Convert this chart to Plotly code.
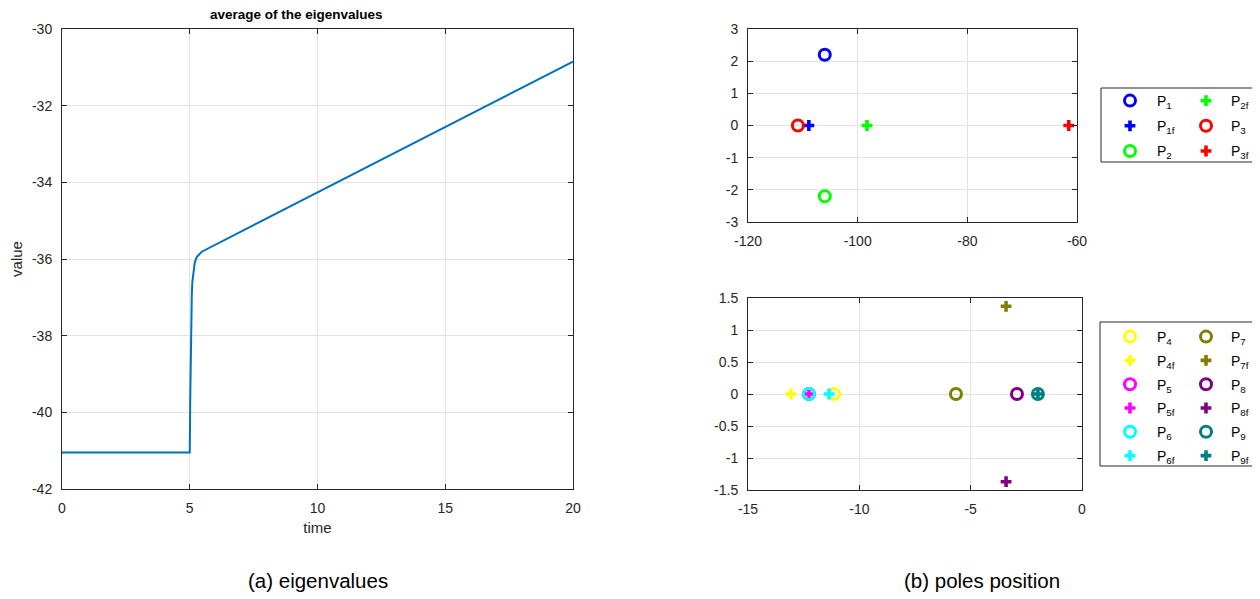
import plotly.graph_objects as go

# ---- data ----
time = [0, 5.0, 5.02, 5.04, 5.06, 5.08, 5.1, 5.15, 5.2, 5.28, 5.38, 5.47, 20]
avg_eig = [-41.05, -41.05, -39.6, -38.4, -37.5, -36.95, -36.6, -36.28, -36.08, -35.94, -35.86, -35.81, -30.85]

# top-right poles
top_names = ["P<sub>1</sub>", "P<sub>1f</sub>", "P<sub>2</sub>", "P<sub>2f</sub>", "P<sub>3</sub>", "P<sub>3f</sub>"]
top_re = [-106, -108.9, -106, -98.3, -110.9, -61.5]
top_im = [2.2, 0, -2.2, 0, 0, 0]
top_kind = ["o", "+", "o", "+", "o", "+"]
top_color = ["#0000FF", "#0000FF", "#00FF00", "#00FF00", "#FF0000", "#FF0000"]

# bottom-right poles
bot_names = ["P<sub>4</sub>", "P<sub>4f</sub>", "P<sub>5</sub>", "P<sub>5f</sub>", "P<sub>6</sub>", "P<sub>6f</sub>",
             "P<sub>7</sub>", "P<sub>7f</sub>", "P<sub>8</sub>", "P<sub>8f</sub>", "P<sub>9</sub>", "P<sub>9f</sub>"]
bot_re = [-11.14, -13.07, -12.26, -12.26, -12.26, -11.36, -5.66, -3.41, -2.92, -3.41, -1.98, -1.98]
bot_im = [0, 0, 0, 0, 0, 0, 0, 1.37, 0, -1.37, 0, 0]
bot_kind = ["o", "+", "o", "+", "o", "+", "o", "+", "o", "+", "o", "+"]
bot_color = ["#FFFF00", "#FFFF00", "#FF00FF", "#FF00FF", "#00FFFF", "#00FFFF",
             "#808000", "#808000", "#800080", "#800080", "#008080", "#008080"]

# tick labels
x1_ticks = [0, 5, 10, 15, 20]
y1_ticks = [-42, -40, -38, -36, -34, -32, -30]
x2_ticks = [-120, -100, -80, -60]
y2_ticks = [-3, -2, -1, 0, 1, 2, 3]
x3_ticks = [-15, -10, -5, 0]
y3_ticks = [-1.5, -1, -0.5, 0, 0.5, 1, 1.5]

OFF = 8                      # page body margin of the browser
W, H = 1260 - OFF, 599 - OFF
FONT = "Liberation Sans, Arial, sans-serif"
TXT = "#262626"
GRID = "#e3e3e3"

fig = go.Figure()

fig.add_trace(go.Scatter(x=time, y=avg_eig, mode="lines",
                         line=dict(color="#0072BD", width=2),
                         xaxis="x", yaxis="y", showlegend=False))


def marker(kind, color):
    if kind == "o":
        return dict(symbol="circle-open", size=11, color=color, line=dict(width=3, color=color))
    return dict(symbol="cross", size=9, color=color, line=dict(width=0))


for i, (n, r, im, k, c) in enumerate(zip(top_names, top_re, top_im, top_kind, top_color)):
    fig.add_trace(go.Scatter(x=[r], y=[im], mode="markers", name=n, marker=marker(k, c),
                             xaxis="x2", yaxis="y2", legendgroup="t%d" % i,
                             legend="legend" if i < 3 else "legend2"))

for i, (n, r, im, k, c) in enumerate(zip(bot_names, bot_re, bot_im, bot_kind, bot_color)):
    fig.add_trace(go.Scatter(x=[r], y=[im], mode="markers", name=n, marker=marker(k, c),
                             xaxis="x3", yaxis="y3", legendgroup="b%d" % i,
                             legend="legend3" if i < 6 else "legend4"))


def fmt(v):
    return "%g" % v


def ax(domain, rng, vals, anchor, standoff, **kw):
    d = dict(domain=domain, range=rng, tickvals=vals, ticktext=[fmt(v) for v in vals],
             anchor=anchor, automargin=False,
             showline=True, linecolor=TXT, linewidth=1, mirror="ticks",
             ticks="inside", ticklen=5, tickcolor=TXT, ticklabelstandoff=standoff,
             showgrid=True, gridcolor=GRID, gridwidth=1, zeroline=False,
             tickfont=dict(family=FONT, size=14, color=TXT))
    d.update(kw)
    return d


def px_x(p):
    return (p - OFF) / W


def px_y(p):
    return 1 - (p - OFF) / H


fig.update_layout(
    width=W, height=H,
    margin=dict(l=0, r=0, t=0, b=0, autoexpand=False),
    paper_bgcolor="white", plot_bgcolor="white",
    font=dict(family=FONT, size=14, color=TXT),
    xaxis=ax([px_x(62), px_x(573)], [0, 20], x1_ticks, "y", 6,
             title=dict(text="time", font=dict(family=FONT, size=15, color=TXT), standoff=7)),
    yaxis=ax([px_y(489), px_y(29)], [-42, -30], y1_ticks, "x", 6,
             title=dict(text="value", font=dict(family=FONT, size=15, color=TXT), standoff=5)),
    xaxis2=ax([px_x(748), px_x(1077)], [-120, -60], x2_ticks, "y2", 6),
    yaxis2=ax([px_y(222), px_y(29)], [-3, 3], y2_ticks, "x2", 6),
    xaxis3=ax([px_x(748), px_x(1082)], [-15, 0], x3_ticks, "y3", 6),
    yaxis3=ax([px_y(490), px_y(298)], [-1.5, 1.5], y3_ticks, "x3", 6),
    showlegend=True,
)

leg_common = dict(bgcolor="rgba(0,0,0,0)", borderwidth=0,
                  font=dict(family=FONT, size=14, color="black"),
                  xanchor="left", yanchor="top", itemclick=False)
fig.update_layout(
    legend=dict(x=px_x(1103), y=px_y(85), tracegroupgap=4, itemwidth=44, **leg_common),
    legend2=dict(x=px_x(1181), y=px_y(85), tracegroupgap=4, itemwidth=40, **leg_common),
    legend3=dict(x=px_x(1103), y=px_y(321), tracegroupgap=2.6, itemwidth=44, **leg_common),
    legend4=dict(x=px_x(1181), y=px_y(321), tracegroupgap=2.6, itemwidth=40, **leg_common),
)

# legend boxes
for (x0, y0, x1, y1) in [(1101, 88, 1254, 162), (1100, 322, 1254, 466)]:
    fig.add_shape(type="rect", xref="paper", yref="paper",
                  x0=px_x(x0), x1=px_x(x1), y0=px_y(y1), y1=px_y(y0),
                  line=dict(color=TXT, width=1), fillcolor="rgba(0,0,0,0)")

fig.add_annotation(text="<b>average of the eigenvalues</b>", xref="paper", yref="paper",
                   x=px_x(296), y=px_y(14), showarrow=False,
                   font=dict(family=FONT, size=13.5, color="black"), xanchor="center", yanchor="middle")
fig.add_annotation(text="(a) eigenvalues", xref="paper", yref="paper",
                   x=px_x(318), y=px_y(580), showarrow=False,
                   font=dict(family=FONT, size=20.5, color="black"), xanchor="center", yanchor="middle")
fig.add_annotation(text="(b) poles position", xref="paper", yref="paper",
                   x=px_x(982), y=px_y(580), showarrow=False,
                   font=dict(family=FONT, size=20.5, color="black"), xanchor="center", yanchor="middle")

fig.write_html("out.html")
